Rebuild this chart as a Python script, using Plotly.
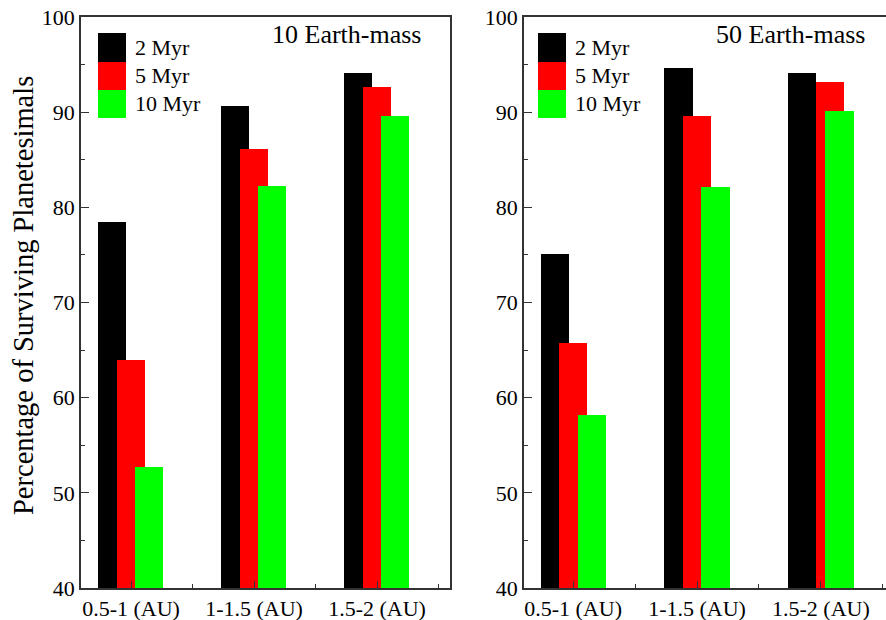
import plotly.graph_objects as go

# ---- data ----
categories = ["0.5-1 (AU)", "1-1.5 (AU)", "1.5-2 (AU)"]
series_names = ["2 Myr", "5 Myr", "10 Myr"]
left_2myr = [78.5, 90.65, 94.15]
left_5myr = [64.0, 86.1, 92.65]
left_10myr = [52.7, 82.2, 89.65]
right_2myr = [75.1, 94.6, 94.15]
right_5myr = [65.7, 89.65, 93.15]
right_10myr = [58.15, 82.15, 90.1]
panel_titles = ["10 Earth-mass", "50 Earth-mass"]
y_ticks = [40, 50, 60, 70, 80, 90, 100]

colors = ["#000000", "#ff0000", "#00ff00"]
FONT = "Liberation Serif, Times New Roman, serif"
W, H = 886, 620

def px_x(p):
    return p / W

def px_y(p):
    return 1 - p / H

bar_w = 0.2276
left_offsets = [[-0.268] * 3, [-0.114] * 3, [0.033] * 3]
right_offsets = [[-0.263] * 3, [-0.116, -0.116, -0.040], [0.036] * 3]

fig = go.Figure()
xs = [0, 1, 2]
left_vals = [left_2myr, left_5myr, left_10myr]
right_vals = [right_2myr, right_5myr, right_10myr]
for i in range(3):
    fig.add_trace(go.Bar(x=xs, y=left_vals[i], name=series_names[i], width=bar_w,
                         offset=left_offsets[i], marker=dict(color=colors[i], line=dict(width=0)),
                         base=0, xaxis="x", yaxis="y", showlegend=False))
    fig.add_trace(go.Bar(x=xs, y=right_vals[i], name=series_names[i], width=bar_w,
                         offset=right_offsets[i], marker=dict(color=colors[i], line=dict(width=0)),
                         base=0, xaxis="x2", yaxis="y2", showlegend=False))

ydom = [px_y(588), px_y(17)]
axis_common = dict(showgrid=False, zeroline=False, showline=True, linecolor="#333333", linewidth=1.5,
                   automargin=False, ticks="inside", tickcolor="#333333", tickwidth=1.2,
                   tickfont=dict(family=FONT, size=22, color="#000000"))

xcommon = dict(axis_common, tickmode="array", tickvals=xs, ticktext=categories, ticklen=7,
               minor=dict(ticks="inside", ticklen=4, tickcolor="#333333", tickvals=[0.5, 1.5, 2.5]))
ycommon = dict(axis_common, range=[40, 100], tickmode="array", tickvals=y_ticks, ticklen=8,
               minor=dict(ticks="inside", ticklen=4, tickcolor="#333333", tickvals=[45, 55, 65, 75, 85, 95]))

fig.update_layout(
    template="none",
    width=W, height=H, margin=dict(l=0, r=0, t=0, b=0, autoexpand=False),
    paper_bgcolor="white", plot_bgcolor="white", barmode="overlay", bargap=0,
    xaxis=dict(xcommon, domain=[px_x(81), px_x(450)], range=[-0.4065, 2.5935], mirror=True, anchor="y"),
    yaxis=dict(ycommon, domain=ydom, mirror=True, anchor="x"),
    xaxis2=dict(xcommon, domain=[px_x(524), 1.0], range=[-0.397, 2.526], mirror=True, anchor="y2"),
    yaxis2=dict(ycommon, domain=ydom, mirror=False, anchor="x2"),
    font=dict(family=FONT, color="#000000"),
)

shapes = []
annotations = []
for (lx, tx) in [(98, 133), (538, 573)]:
    rows = [(33, 62), (62, 90), (90, 118)]
    for i, (y0, y1) in enumerate(rows):
        shapes.append(dict(type="rect", xref="paper", yref="paper",
                           x0=px_x(lx), x1=px_x(lx + 28), y0=px_y(y1), y1=px_y(y0),
                           fillcolor=colors[i], line=dict(width=0)))
        annotations.append(dict(xref="paper", yref="paper", x=px_x(tx), y=px_y((y0 + y1) / 2),
                                text=series_names[i], showarrow=False, xanchor="left", yanchor="middle",
                                font=dict(family=FONT, size=22, color="#000000")))

annotations.append(dict(xref="paper", yref="paper", x=px_x(423), y=px_y(35), text=panel_titles[0],
                        showarrow=False, xanchor="right", yanchor="middle",
                        font=dict(family=FONT, size=26, color="#000000")))
annotations.append(dict(xref="paper", yref="paper", x=px_x(867), y=px_y(35), text=panel_titles[1],
                        showarrow=False, xanchor="right", yanchor="middle",
                        font=dict(family=FONT, size=26, color="#000000")))
annotations.append(dict(xref="paper", yref="paper", x=px_x(23), y=px_y(296),
                        text="Percentage of Surviving Planetesimals", textangle=-90,
                        showarrow=False, xanchor="center", yanchor="middle",
                        font=dict(family=FONT, size=28.5, color="#000000")))

fig.update_layout(shapes=shapes, annotations=annotations)
fig.write_html("out.html", config={"displayModeBar": False},
               post_script="document.body.style.margin='0';document.body.style.padding='0';")
